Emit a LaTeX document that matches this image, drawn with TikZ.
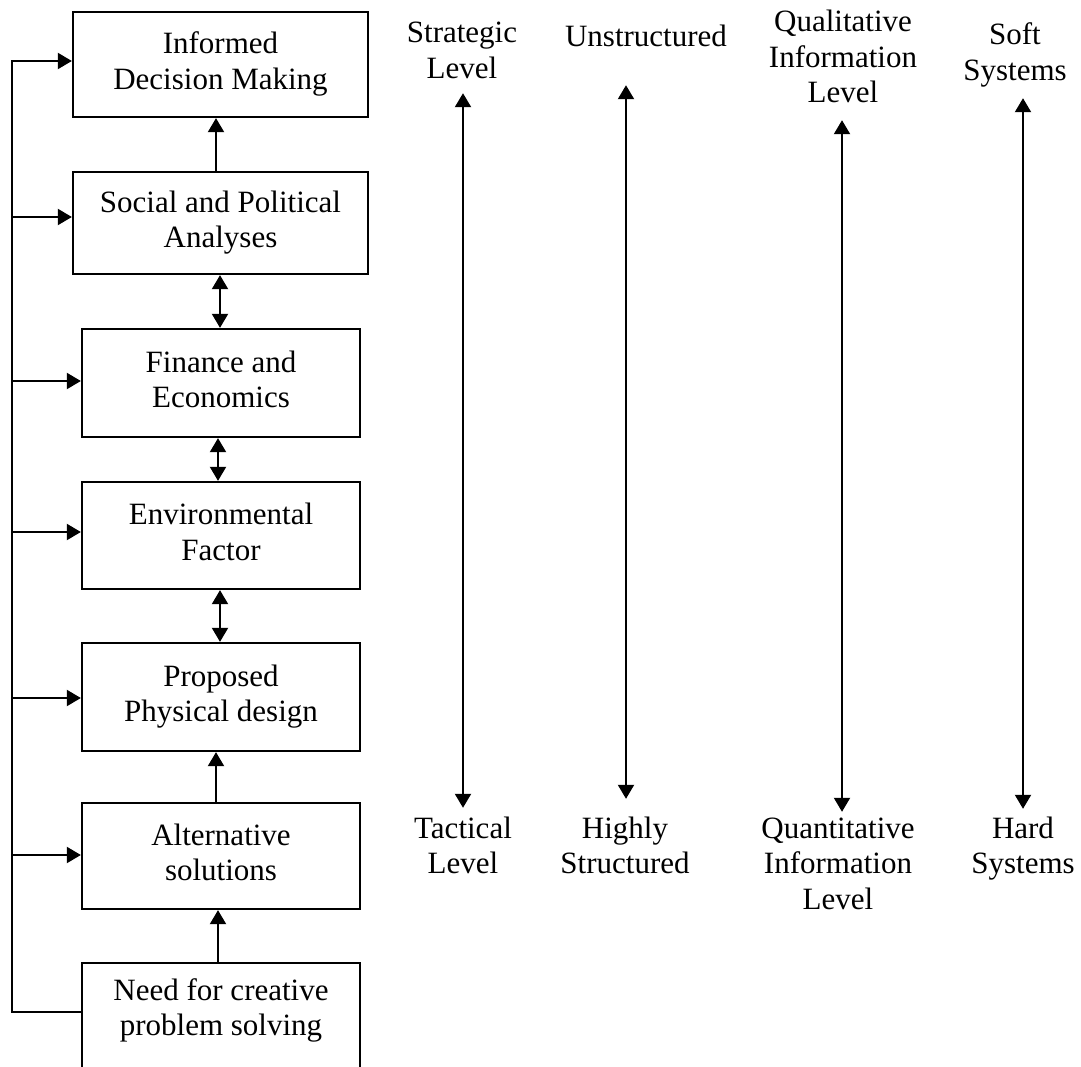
\documentclass[tikz,border=0pt]{standalone}
\usepackage{fontspec}
\setmainfont{Liberation Serif}
\usetikzlibrary{arrows.meta,calc}
\begin{document}
\begin{tikzpicture}[x=1pt,y=-1pt,
  txt/.style={font=\fontsize{31}{35.5}\selectfont, align=center, inner sep=0pt},
  box/.style={txt, draw, line width=2.3pt},
  ln/.style={line width=2pt},
  arr/.style={ln, -{Triangle[length=14pt,width=16pt]}},
  darr/.style={ln, {Triangle[length=14pt,width=16pt]}-{Triangle[length=14pt,width=16pt]}},
]
\clip (0,0) rectangle (1081,1067);
\coordinate (rail) at (12,0);

% process chain on the left
\node[box, minimum width=295pt, minimum height=105pt] (b1) at (220.5,64.5) {\strut Informed\\Decision Making\strut};
\node[box, minimum width=295pt, minimum height=102pt] (b2) at (220.5,223) {\strut Social and Political\\Analyses\strut};
\node[box, minimum width=278pt, minimum height=108pt] (b3) at (221,383) {\strut Finance and\\Economics\strut};
\node[box, minimum width=278pt, minimum height=107pt] (b4) at (221,535.5) {\strut Environmental\\Factor\strut};
\node[box, minimum width=278pt, minimum height=108pt] (b5) at (221,697) {\strut Proposed\\Physical design\strut};
\node[box, minimum width=278pt, minimum height=106pt] (b6) at (221,856) {\strut Alternative\\solutions\strut};
\node[box, minimum width=278pt, minimum height=140pt, anchor=north] (b7) at (221,962) {};
\node[txt] (t7) at (221,1010.65) {\strut Need for creative\\problem solving\strut};

% links between the boxes
\draw[arr] ([xshift=-4.5pt]b2.north) -- ([xshift=-4.5pt]b1.south);
\draw[darr] ([xshift=-0.5pt]b2.south) -- ([xshift=-1pt]b3.north);
\draw[darr] ([xshift=-3pt]b3.south) -- ([xshift=-3pt]b4.north);
\draw[darr] ([xshift=-1pt]b4.south) -- ([xshift=-1pt]b5.north);
\draw[arr] ([xshift=-5pt]b6.north) -- ([xshift=-5pt]b5.south);
\draw[arr] ([xshift=-3pt]b7.north) -- ([xshift=-3pt]b6.south);

% feedback rail
\coordinate (e1) at ([yshift=3.5pt]b1.west);
\coordinate (e2) at ([yshift=6pt]b2.west);
\coordinate (e3) at ([yshift=2pt]b3.west);
\coordinate (e4) at ([yshift=3.5pt]b4.west);
\coordinate (e5) at ([yshift=-1pt]b5.west);
\coordinate (e6) at ([yshift=1pt]b6.west);
\coordinate (e7) at ([yshift=-1.3pt]t7.center -| b7.west);
\draw[arr] (e7) -- (e7 -| rail) -- (e1 -| rail) -- (e1);
\foreach \i in {2,...,6} \draw[arr] (e\i -| rail) -- (e\i);

% scales on the right
\node[txt] (strat) at (462,53.65) {\strut Strategic\\Level\strut};
\node[txt] (unstr) at (646,39.9) {\strut Unstructured\strut};
\node[txt] (qual) at (843,60.4) {\strut Qualitative\\Information\\Level\strut};
\node[txt] (soft) at (1015,55.65) {\strut Soft\\Systems\strut};
\node[txt] (tact) at (463,848.65) {\strut Tactical\\Level\strut};
\node[txt] (hs) at (625,848.65) {\strut Highly\\Structured\strut};
\node[txt] (quant) at (838,866.4) {\strut Quantitative\\Information\\Level\strut};
\node[txt] (hard) at (1023,848.65) {\strut Hard\\Systems\strut};

\draw[darr, shorten <=3.85pt, shorten >=5.15pt] (strat.south -| tact.north) -- (tact.north);
\draw[darr, shorten <=27.35pt, shorten >=14.15pt] ([xshift=1pt]unstr.south -| hs.north) -- ([xshift=1pt]hs.north);
\draw[darr, shorten <=6.35pt, shorten >=1.15pt] ([xshift=-1pt]qual.south) -- ([xshift=-1pt]qual.south |- quant.north);
\draw[darr, shorten <=6.85pt, shorten >=4.15pt] (soft.south -| hard.north) -- (hard.north);
\end{tikzpicture}
\end{document}
